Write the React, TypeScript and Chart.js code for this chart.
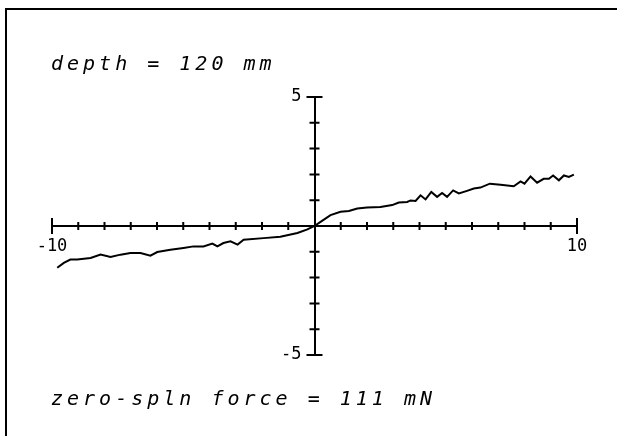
import React, { useEffect, useRef } from "react";
import { Chart, registerables } from "chart.js";

Chart.register(...registerables);

// Curve samples (x, y pairs)
const xValues = [
  -9.8, -9.55, -9.3, -9.04, -8.53, -8.15, -7.77, -7.39, -7.01, -6.63, -6.25, -5.99,
  -5.49, -4.99, -4.61, -4.23, -3.89, -3.7, -3.47, -3.2, -2.93, -2.7, -1.94, -1.3,
  -0.65, -0.27, 0, 0.23, 0.61, 0.99, 1.31, 1.63, 2.0, 2.51, 2.96, 3.21, 3.53, 3.66,
  3.85, 4.04, 4.23, 4.45, 4.67, 4.86, 5.05, 5.28, 5.5, 5.81, 6.07, 6.32, 6.68, 7.09,
  7.59, 7.85, 8.0, 8.23, 8.48, 8.73, 8.93, 9.09, 9.31, 9.5, 9.69, 9.88,
];
const yValues = [
  -1.62, -1.43, -1.3, -1.3, -1.24, -1.11, -1.2, -1.11, -1.05, -1.05, -1.15, -1.01,
  -0.92, -0.85, -0.79, -0.79, -0.68, -0.79, -0.66, -0.59, -0.72, -0.53, -0.47, -0.42,
  -0.27, -0.13, 0, 0.16, 0.42, 0.55, 0.58, 0.68, 0.72, 0.74, 0.81, 0.91, 0.93, 0.99,
  0.97, 1.19, 1.03, 1.32, 1.13, 1.28, 1.13, 1.38, 1.26, 1.36, 1.45, 1.49, 1.64, 1.6,
  1.54, 1.73, 1.64, 1.92, 1.68, 1.83, 1.83, 1.96, 1.77, 1.96, 1.9, 1.99,
];

const xTickValues = [-10, -9, -8, -7, -6, -5, -4, -3, -2, -1, 1, 2, 3, 4, 5, 6, 7, 8, 9, 10];
const yTickValues = [-5, -4, -3, -2, -1, 1, 2, 3, 4, 5];
const xLabelValues = [-10, 10];
const xLabelTexts = ["-10", "10"];
const yLabelValues = [5, -5];
const yLabelTexts = ["5", "-5"];

const topNote = "depth = 120 mm";
const bottomNote = "zero-spln force = 111 mN";

const LABEL_FONT = "17px 'DejaVu Sans Mono'";

const crossTicks = {
  id: "crossTicks",
  afterDatasetsDraw(chart: any) {
    const { ctx, scales } = chart;
    const x = scales.x;
    const y = scales.y;
    const y0 = y.getPixelForValue(0);
    const x0 = x.getPixelForValue(0);
    ctx.save();
    ctx.strokeStyle = "#000";
    ctx.lineWidth = 2;
    ctx.beginPath();
    for (const v of xTickValues) {
      const px = x.getPixelForValue(v);
      const h = Math.abs(v) === 10 ? 8 : 4;
      ctx.moveTo(px, y0 - h);
      ctx.lineTo(px, y0 + h);
    }
    for (const v of yTickValues) {
      const py = y.getPixelForValue(v);
      const w = Math.abs(v) === 5 ? 8 : 5;
      ctx.moveTo(x0 - w, py);
      ctx.lineTo(x0 + w, py);
    }
    ctx.stroke();

    ctx.fillStyle = "#000";
    ctx.font = LABEL_FONT;
    ctx.textAlign = "center";
    ctx.textBaseline = "middle";
    xLabelValues.forEach((v, i) => {
      ctx.fillText(xLabelTexts[i], x.getPixelForValue(v), y0 + 21);
    });
    ctx.textAlign = "right";
    yLabelValues.forEach((v, i) => {
      ctx.fillText(yLabelTexts[i], x0 - 13, y.getPixelForValue(v));
    });
    ctx.restore();
  },
};

export default function App() {
  const ref = useRef<HTMLCanvasElement | null>(null);

  useEffect(() => {
    if (!ref.current) return;
    const points = xValues.map((v, i) => ({ x: v, y: yValues[i] }));
    const chart = new Chart(ref.current, {
      type: "scatter",
      data: {
        datasets: [
          {
            data: points,
            showLine: true,
            borderColor: "#000",
            borderWidth: 2,
            pointRadius: 0,
            tension: 0,
            fill: false,
          },
        ],
      },
      options: {
        animation: false,
        responsive: false,
        maintainAspectRatio: false,
        layout: { padding: { left: 52, right: 40, top: 97, bottom: 81 } },
        plugins: {
          legend: { display: false },
          tooltip: { enabled: false },
          title: { display: false },
        },
        scales: {
          x: {
            type: "linear",
            min: -10,
            max: 10,
            position: { y: 0 } as any,
            grid: { display: false, drawTicks: false },
            border: { display: true, color: "#000", width: 2 },
            ticks: { display: false, stepSize: 1 },
          },
          y: {
            type: "linear",
            min: -5,
            max: 5,
            position: { x: 0 } as any,
            grid: { display: false, drawTicks: false },
            border: { display: true, color: "#000", width: 2 },
            ticks: { display: false, stepSize: 1 },
          },
        },
      },
      plugins: [crossTicks],
    });
    return () => chart.destroy();
  }, []);

  const noteStyle: React.CSSProperties = {
    position: "absolute",
    left: 51,
    fontFamily: "'DejaVu Sans Mono'",
    fontStyle: "italic",
    fontSize: 20,
    letterSpacing: 4,
    color: "#000",
    whiteSpace: "nowrap",
    lineHeight: "24px",
  };

  return (
    <div
      style={{
        position: "fixed",
        left: 0,
        top: 0,
        width: 617,
        height: 436,
        background: "#fff",
        overflow: "hidden",
      }}
    >
      <div
        style={{
          position: "absolute",
          left: 5,
          top: 8,
          width: 640,
          height: 460,
          borderTop: "2px solid #000",
          borderLeft: "2px solid #000",
        }}
      />
      <canvas ref={ref} width={617} height={436} style={{ position: "absolute", left: 0, top: 0 }} />
      <div style={{ ...noteStyle, top: 51 }}>{topNote}</div>
      <div style={{ ...noteStyle, top: 386 }}>{bottomNote}</div>
    </div>
  );
}
